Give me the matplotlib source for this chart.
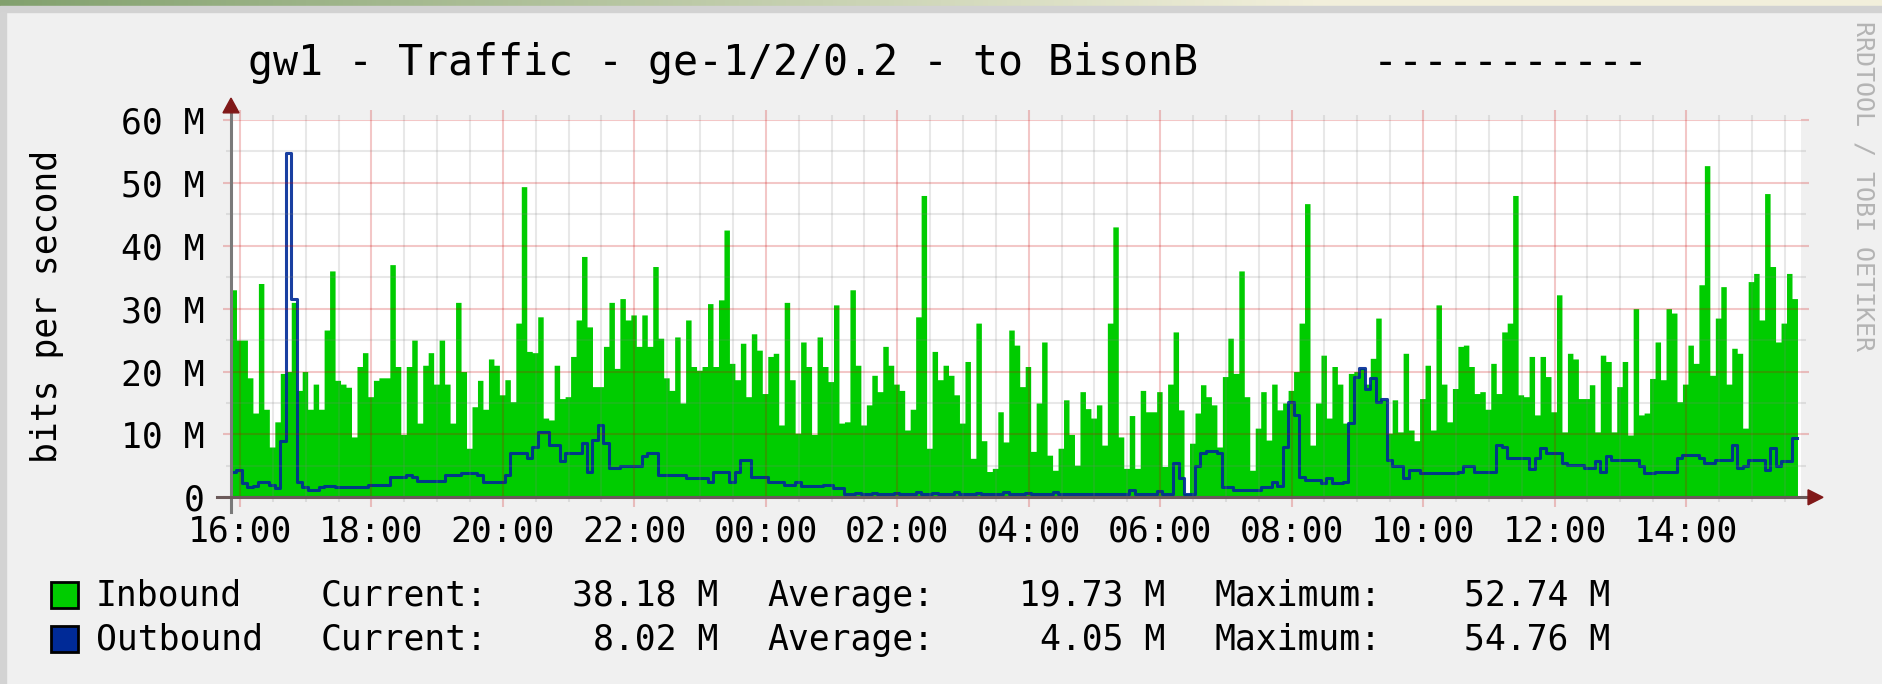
import numpy as np
import matplotlib
matplotlib.use("Agg")
import matplotlib.pyplot as plt
from matplotlib.patches import Rectangle, Polygon
from matplotlib.ticker import MultipleLocator

plt.rcParams["font.family"] = ["DejaVu Sans Mono"]

W, H = 1882, 684

title = "gw1 - Traffic - ge-1/2/0.2 - to BisonB       -----------"
ylabel = "bits per second"
watermark = "RRDTOOL / TOBI OETIKER"

# time axis in hours after 16:00, one sample every 5 minutes
t_start = -0.137
t_end = 23.75
step_h = 5 / 60.0

hour_ticks = [0, 2, 4, 6, 8, 10, 12, 14, 16, 18, 20, 22]
hour_labels = ["16:00", "18:00", "20:00", "22:00", "00:00", "02:00",
               "04:00", "06:00", "08:00", "10:00", "12:00", "14:00"]
mbit_ticks = [0, 10, 20, 30, 40, 50, 60]
mbit_labels = ["0", "10 M", "20 M", "30 M", "40 M", "50 M", "60 M"]

# Mbit/s
inbound = [
    33, 25, 25, 19, 13.4, 34, 14, 8, 12, 19.7, 20, 31, 17, 20, 14, 18, 14, 26.6, 36, 18.6,
    18, 17.5, 9.6, 20.8, 23, 16, 18.6, 19, 19, 37, 20.8, 10, 20.8, 25, 11.8, 21, 23, 18, 25, 18,
    11.8, 31, 20, 7.8, 14.4, 18.6, 14, 22, 21,
    16.3, 18.7, 15.2, 27.7, 49.4, 23.2, 23, 28.7, 12.6, 12.3, 21, 15.7, 16, 22.4, 28.2, 38.3,
    27.1, 17.6, 17.6, 24, 31, 20.5, 31.6, 28.2, 29, 24, 29, 24, 36.7, 25.3, 19, 17, 25.5, 15,
    28.2, 20.8, 20.2, 20.8, 30.8, 20.8, 31.4, 42.5, 21.3, 18.7, 24.5, 16, 26, 23.4, 16.5, 22.4,
    22.9, 11.5, 31, 18.7, 10.2, 24.7, 20.8, 10, 25.5, 20.8, 18.4, 30.6, 11.8, 12, 33, 21, 11.5,
    14.7, 19.4, 16.8, 24, 21, 18, 17, 10.7, 14, 28.7, 48, 7.8, 23.2, 18.7, 21, 19.4, 16.3, 11.8,
    21.6, 6.2, 27.7, 9, 4.1, 4.6, 13.6, 8.8, 26.6, 24.2, 17.6, 20.8, 7.3, 15, 24.7,
    6.7, 4.3, 7.8, 15.5, 10, 5.1, 16.8, 14.1, 12.6, 14.7, 8.3, 27.7, 43, 9.6, 4.6, 13, 4.6, 17,
    13.6, 13.6, 16.8, 4.9, 18, 26.3, 13.9, 0.6, 8.6, 13.4, 17.9, 16, 14.7, 8, 19.2, 25.3, 19.7,
    36, 16, 4.3, 11, 16.8, 9.1, 18, 13.9, 15, 17, 20, 27.7, 46.7, 8.3, 15, 22.6, 12.6, 20.8, 18,
    11.8, 19.7, 20, 20.5, 18, 22.1, 28.5, 15.5, 10.2, 15.5, 10.4, 22.9, 10.7, 9, 15.7, 21, 10.7,
    30.6, 18, 12, 17.3, 24, 24.2, 20.8, 16.5, 16.8, 14, 21.3, 16.5, 26.3, 27.7, 48, 16.3, 16,
    22.4, 13.1, 22.4, 19.2, 13.6, 32.2,
    10.4, 22.9, 22, 15.7, 15.7, 17.9, 10.4, 22.6, 21.6, 10.4, 17.6, 21.6, 9.9, 30, 13.1, 13.4,
    18.9, 24.7, 18.7, 30, 29.3, 15.2, 18, 24.2, 21.3, 33.8, 52.74, 19.4, 28.5, 33.5, 18, 23.7,
    22.9, 11, 34.3, 35.6, 28.2, 48.3, 36.7, 24.7, 27.7, 35.6, 31.6,
]
outbound = [
    4, 4.3, 2.3, 1.7, 1.8, 2.5, 2.5, 2.0, 1.4, 9, 54.76, 31.6, 2.5, 1.7, 1.2, 1.2, 1.6, 1.8, 1.8,
    1.7, 1.7, 1.7, 1.7, 1.7, 1.7, 2.0, 2.0, 2.0, 2.0, 3.3, 3.3, 3.3, 3.5, 3.3, 2.6, 2.6, 2.6, 2.6,
    2.6, 3.5, 3.5, 3.5, 3.9, 3.9, 3.9, 3.5, 2.5, 2.5, 2.5,
    2.5, 3.5, 7, 7, 7, 6.2, 8, 10.4, 10.4, 8.3, 8.3, 5.7, 7, 7, 7, 8.6, 4.1, 9.1, 11.5, 8.6,
    4.6, 4.6, 4.9, 4.9, 4.9, 4.9, 6.5, 7, 7, 3.5, 3.5, 3.5, 3.5, 3.5, 3, 3, 3, 3, 2.5, 4.1,
    4.1, 4.1, 2.5, 4.1, 5.9, 5.9, 3.3, 3.3, 3.3, 2.5, 2.5, 2.5, 2, 2, 2.5, 1.8, 1.8, 1.8, 1.8, 2,
    2, 1.4, 1.4, 0.6, 0.6, 0.7, 0.6, 0.6, 0.7, 0.6, 0.6, 0.6, 0.7, 0.6, 0.6, 0.6, 0.9, 0.6, 0.6,
    0.7, 0.6, 0.6, 0.6, 0.9, 0.6, 0.6, 0.6, 0.7, 0.6, 0.6, 0.6, 0.6, 0.9, 0.6, 0.6, 0.6, 0.7,
    0.6, 0.6, 0.6,
    0.5, 0.9, 0.5, 0.5, 0.5, 0.5, 0.5, 0.5, 0.5, 0.5, 0.5, 0.5, 0.5, 0.5, 0.5, 1.1, 0.5, 0.5,
    0.5, 0.5, 1.0, 0.5, 0.5, 5.4, 3, 0.6, 0.6, 5, 7, 7.3, 7.3, 7, 1.7, 1.7, 1.2, 1.2, 1.2, 1.2,
    1.2, 1.7, 1.7, 2.5, 1.8, 8, 15.2, 13.1, 3.3, 2.8, 2.8, 2.8, 2.2, 3, 2.2, 2.2, 2.5, 11.8, 19.2,
    20.5, 17.3, 18.9, 15.2, 15.7, 5.9, 4.9, 4.9, 3, 4.3, 4.3, 3.8, 3.8, 3.8, 3.8, 3.8, 3.8, 3.8,
    4.1, 4.9, 4.9, 4.1, 4.1, 4.1, 4.1, 8.3, 8, 6.2, 6.2, 6.2, 6.2, 4.5, 6.2, 7.8, 7, 7, 7,
    5.4, 5.1, 5.1, 5.1, 4.6, 4.6, 5.7, 4.1, 6.5, 5.9, 5.9, 5.9, 5.9, 5.9, 4.9, 3.8, 3.8, 4.1,
    4.1, 4.1, 4.1, 6.2, 6.7, 6.7, 6.7, 6.2, 5.4, 5.4, 5.9, 5.9, 5.9, 8.3, 4.6, 4.9, 5.9, 5.9,
    5.9, 4.3, 7.8, 4.9, 5.7, 5.7, 9.4,
]

legend_names = ["Inbound", "Outbound"]
legend_colors = ["#00cc00", "#002a97"]
current = ["38.18 M", "8.02 M"]
average = ["19.73 M", "4.05 M"]
maximum = ["52.74 M", "54.76 M"]

# grid is drawn translucent on top of the data, like rrdtool does
major_rgb, major_alpha = (0.8, 0.0, 0.0), 0.22
minor_rgb, minor_alpha = (0.5, 0.5, 0.5), 0.18
major_tick = "#e8bbbb"
minor_tick = "#dcdcdc"


def fx(px):
    return px / W


def fy(py):
    return 1 - py / H


fig = plt.figure(figsize=(W / 100, H / 100), dpi=100, facecolor="#f0f0f0")

# browser chrome around the graph
bar = fig.add_axes([0, fy(6), 1, 6 / H])
grad = np.linspace(0, 1, 400)
bar_rgb = np.stack([np.interp(grad, [0, 0.7, 1], [0.51, 0.95, 0.95]),
                    np.interp(grad, [0, 0.7, 1], [0.63, 0.94, 0.94]),
                    np.interp(grad, [0, 0.7, 1], [0.43, 0.86, 0.86])], axis=-1)
bar.imshow(bar_rgb[None, :, :], aspect="auto", extent=[0, 1, 0, 1])
bar.axis("off")
fig.patches.append(Rectangle((0, fy(12)), 1, 6 / H, transform=fig.transFigure,
                             color="#d2d2d2", zorder=0))
fig.patches.append(Rectangle((0, 0), fx(6), fy(12), transform=fig.transFigure,
                             color="#d3d3d3", zorder=0))

ax = fig.add_axes([fx(231), fy(497.3), 1570 / W, 377.3 / H])
ax.set_facecolor("white")

x = t_start + step_h * np.arange(len(inbound) + 1)
inb = np.append(inbound, inbound[-1])
outb = np.append(outbound, outbound[-1])
ax.fill_between(x, 0, inb, step="post", color=legend_colors[0], linewidth=0)
ax.step(x, outb, where="post", color=legend_colors[1], lw=2.2, alpha=0.9)

ax.set_xlim(t_start, t_end)
ax.set_ylim(0, 60)
for s in ax.spines.values():
    s.set_visible(False)

ax.set_xticks(hour_ticks)
ax.set_xticklabels(hour_labels)
ax.xaxis.set_minor_locator(MultipleLocator(0.5))
ax.set_yticks(mbit_ticks)
ax.set_yticklabels(mbit_labels)
ax.yaxis.set_minor_locator(MultipleLocator(5))

ax.grid(which="major", color=major_rgb, alpha=major_alpha, lw=1.5)
ax.grid(which="minor", color=minor_rgb, alpha=minor_alpha, lw=1.5)
ax.set_axisbelow(False)

ax.tick_params(axis="x", which="major", direction="out", length=7.5, width=1.5,
               color=major_tick, top=True, bottom=True, labelsize=25, pad=5)
ax.tick_params(axis="x", which="minor", direction="out", length=3.6, width=1.5,
               color=minor_tick, top=True, bottom=True)
ax.tick_params(axis="y", which="major", direction="out", length=6, width=1.5,
               color=major_tick, left=True, right=True, labelsize=25, pad=13)
ax.tick_params(axis="y", which="minor", direction="out", length=3.6, width=1.5,
               color=minor_tick, left=True, right=True)

# rrdtool style axes with arrows
ax.plot([0, 0], [-0.039, 1.019], transform=ax.transAxes, color="#7a7a7a", lw=2.2,
        clip_on=False, zorder=5)
ax.plot([-0.0089, 1.0045], [0, 0], transform=ax.transAxes, color="#6b5a5a", lw=2.2,
        clip_on=False, zorder=5)
ax.add_patch(Polygon([[-0.0051, 1.019], [0.0051, 1.019], [0, 1.058]], closed=True,
                     transform=ax.transAxes, color="#801818", clip_on=False, zorder=6))
ax.add_patch(Polygon([[1.0045, -0.0199], [1.0045, 0.0199], [1.014, 0]], closed=True,
                     transform=ax.transAxes, color="#801818", clip_on=False, zorder=6))

fig.text(fx(948), fy(75), title, ha="center", va="baseline", size=30, color="black")
fig.text(fx(47), fy(306), ylabel, rotation=90, ha="center", va="center", size=25)
fig.text(fx(1863), fy(186), watermark, rotation=270, ha="center", va="center",
         size=18, color="#b4b4b4")

# legend rows
rows = [(582, 606), (626, 650)]
for k in range(2):
    top, base = rows[k]
    fig.patches.append(Rectangle((fx(51), fy(top + 26)), 27 / W, 26 / H,
                                 transform=fig.transFigure, facecolor=legend_colors[k],
                                 edgecolor="black", lw=2))
    fig.text(fx(96), fy(base), legend_names[k], va="baseline", size=25)
    fig.text(fx(321), fy(base), "Current:", va="baseline", size=25)
    fig.text(fx(718), fy(base), current[k], ha="right", va="baseline", size=25)
    fig.text(fx(767), fy(base), "Average:", va="baseline", size=25)
    fig.text(fx(1165), fy(base), average[k], ha="right", va="baseline", size=25)
    fig.text(fx(1214), fy(base), "Maximum:", va="baseline", size=25)
    fig.text(fx(1610), fy(base), maximum[k], ha="right", va="baseline", size=25)

fig.savefig("out.png", dpi=100, facecolor=fig.get_facecolor())
